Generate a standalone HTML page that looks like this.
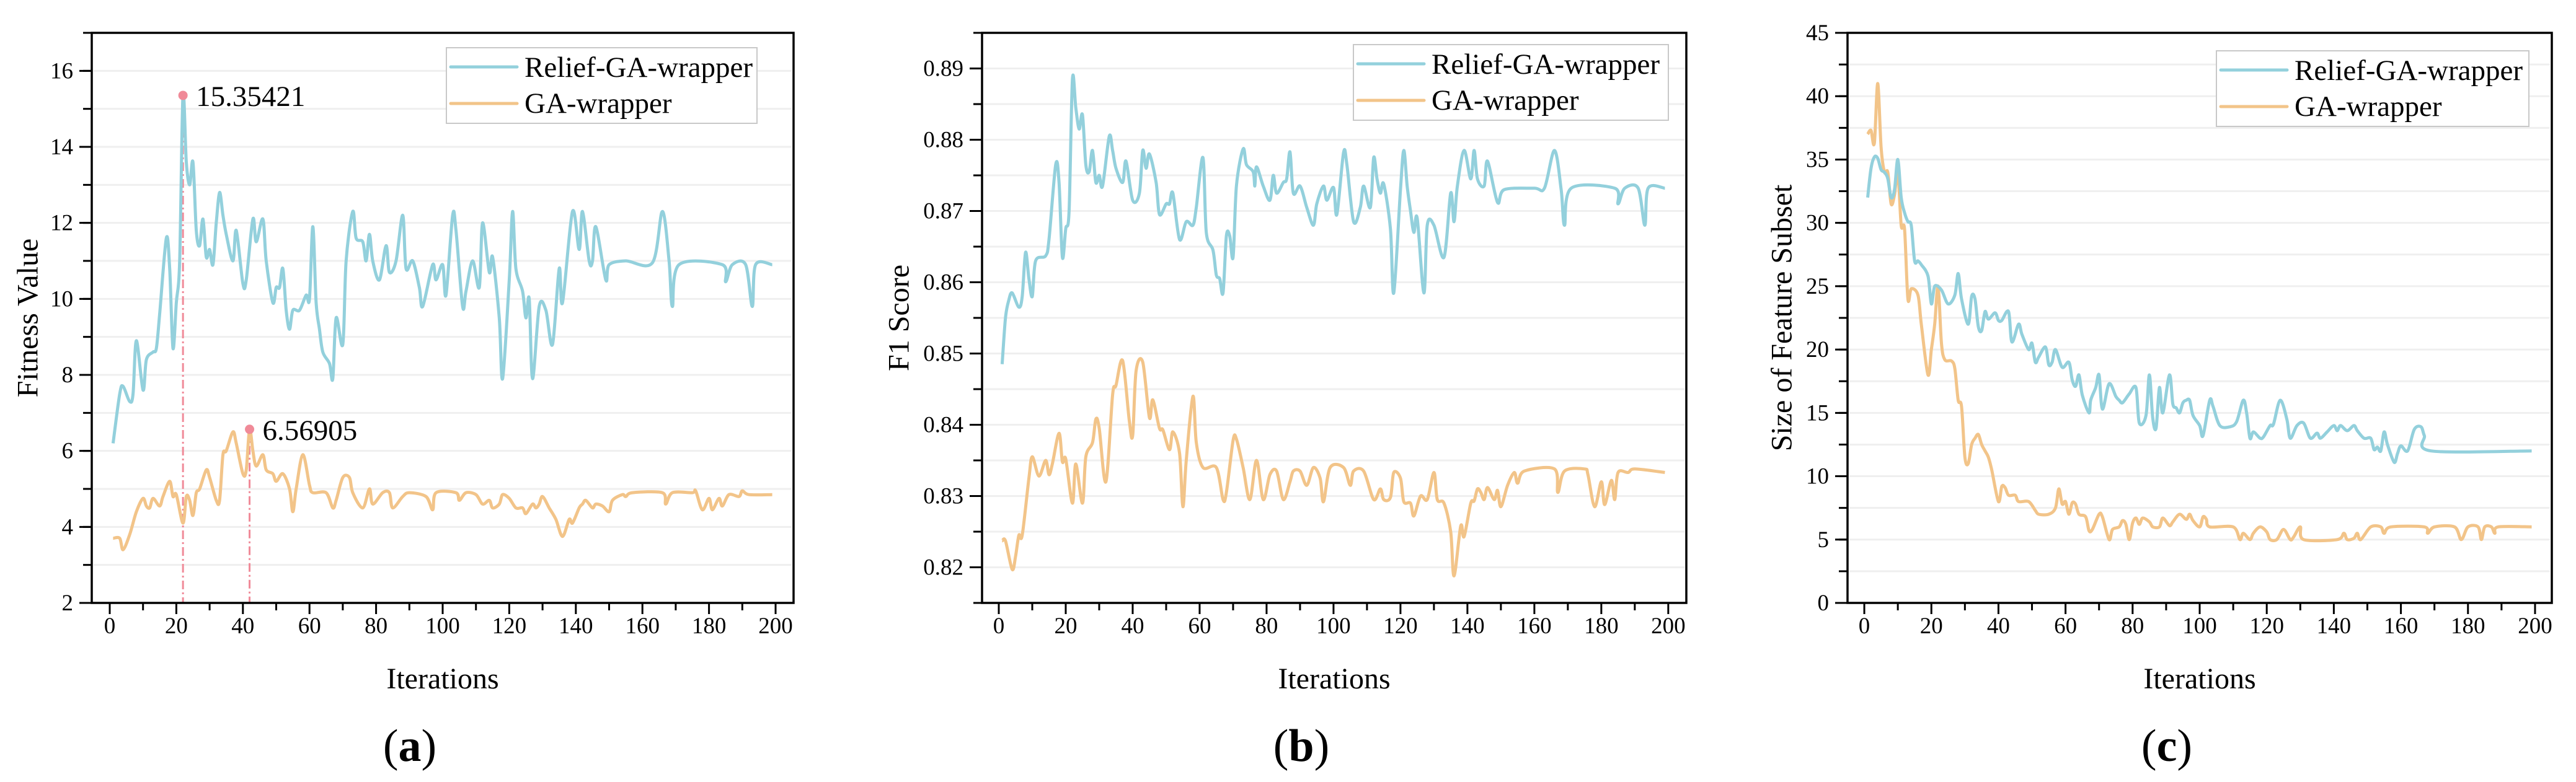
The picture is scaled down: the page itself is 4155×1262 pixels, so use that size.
<!DOCTYPE html>
<html><head><meta charset="utf-8">
<style>
html,body{margin:0;padding:0;background:#fff;}
svg{display:block;}
svg text{font-family:"Liberation Serif","Times New Roman",serif;}
</style></head>
<body>
<svg id="fig" width="4155" height="1262" viewBox="0 0 4155 1262" xmlns="http://www.w3.org/2000/svg" font-family="'Liberation Serif', serif"></svg>
<script>
// ---------- DATA (iteration, value) ----------
const aReliefIter = [1,3,4,6,7,8,10,11,13,14,15,17,18,19,20,21,22,23,24,25,26,27,28,29,30,31,32,33,34,35,37,38,40,41,43,44,46,47,49,50,51,52,53,54,55,57,59,60,61,62,63,64,66,67,68,70,71,73,74,76,77,78,79,81,83,84,86,88,89,91,93,94,97,98,100,101,103,104,106,107,109,111,112,114,115,117,118,120,121,122,124,125,126,127,129,131,133,135,136,139,141,142,144,145,146,149,150,155,163,166,168,169,171,184,185,187,191,193,194,199];
const aReliefVal = [6.2,7.5,7.7,7.3,7.5,8.9,7.6,8.4,8.6,8.7,9.6,11.6,10.8,8.7,9.9,11,15.354,13.6,13.0,13.6,11.8,11.4,12.1,11.1,11.3,10.9,12.0,12.8,12.2,11.7,11.0,11.8,10.4,10.5,12.1,11.5,12.1,11.0,9.9,10.3,10.3,10.8,9.7,9.2,9.7,9.7,10.1,10.0,11.9,9.9,9.2,8.6,8.3,7.9,9.5,8.8,11.0,12.3,11.6,11.5,11.0,11.7,11.0,10.5,11.4,10.7,11.0,12.2,10.8,11.0,10.3,9.8,10.9,10.5,10.9,10.1,12.2,11.8,9.8,10.2,11.0,10.3,12.0,10.7,11.1,9.5,7.9,10.5,12.3,10.8,10.2,9.5,10.0,7.9,9.8,9.7,8.8,10.8,9.9,12.3,11.3,12.3,11.0,11.0,11.9,10.5,10.9,11.0,10.95,12.3,11.0,9.8,10.9,10.9,10.45,10.9,10.9,9.8,10.9,10.9];
const aGaIter = [1,3,4,6,8,10,11,12,13,15,16,18,19,20,22,23,24,25,26,27,29,30,32,33,34,35,37,38,40,41,42,43,44,46,47,49,50,52,54,55,56,58,60,61,65,67,68,70,72,73,76,78,79,82,84,85,88,90,95,97,98,104,105,107,110,112,114,115,117,118,120,122,124,125,127,128,129,130,132,134,136,138,139,141,142,143,145,146,148,150,151,154,155,157,166,167,169,175,176,178,180,181,183,184,186,189,190,192,199];
const aGaVal = [3.7,3.7,3.4,3.8,4.4,4.75,4.55,4.5,4.75,4.55,4.8,5.2,4.8,4.85,4.1,4.8,4.7,4.3,4.9,5.0,5.5,5.3,4.7,4.7,5.9,6.0,6.5,6.2,5.4,5.5,6.569,6.0,5.6,5.9,5.5,5.4,5.2,5.4,5.0,4.4,5.0,5.9,5.1,4.9,4.9,4.5,4.7,5.3,5.3,4.9,4.5,5.0,4.6,4.9,4.9,4.5,4.8,4.9,4.8,4.45,4.9,4.9,4.7,4.9,4.85,4.6,4.7,4.5,4.6,4.85,4.75,4.5,4.5,4.35,4.6,4.5,4.6,4.8,4.5,4.2,3.75,4.2,4.1,4.5,4.6,4.7,4.5,4.6,4.55,4.4,4.7,4.85,4.8,4.9,4.9,4.6,4.9,4.9,4.95,4.45,4.75,4.45,4.75,4.55,4.85,4.8,4.95,4.85,4.85];
const aPeakIter = [22, 42];
const aPeakVal = [15.35421, 6.56905];
const aPeakLabel = ["15.35421", "6.56905"];

const bReliefIter = [1,2,3,4,6,7,8,9,10,11,14,15,17,18,19,20,21,22,23,24,25,26,27,28,29,30,31,33,34,35,37,38,40,42,43,44,45,47,48,50,51,52,54,56,58,59,61,62,64,65,66,67,68,69,70,71,73,74,76,76.5,77,79,81,82,83,85,86,87,88,90,92,94,95,97,98,100,101,103,104,106,108,109,111,112,113,114,115,117,118,120,121,122,123,124,125,127,128,130,133,135,136,137,139,141,142,143,145,146,149,151,160,163,166,168,169,171,184,185,187,191,193,194,199];
const bReliefVal = [0.8485,0.855,0.8575,0.8585,0.8565,0.858,0.8642,0.8605,0.858,0.863,0.8637,0.866,0.8765,0.874,0.8635,0.8675,0.87,0.8885,0.8845,0.8815,0.8835,0.8765,0.8755,0.8785,0.874,0.875,0.8735,0.8805,0.8785,0.876,0.874,0.877,0.8715,0.8725,0.8785,0.876,0.878,0.874,0.8695,0.871,0.871,0.8725,0.866,0.8685,0.868,0.8705,0.8775,0.867,0.8645,0.861,0.8605,0.8585,0.8665,0.8665,0.8635,0.8735,0.8787,0.8765,0.8755,0.8735,0.8762,0.8735,0.8715,0.875,0.8725,0.874,0.8745,0.8783,0.8725,0.8735,0.8705,0.868,0.871,0.8735,0.8715,0.8733,0.8695,0.8782,0.8765,0.8685,0.8705,0.8735,0.8705,0.8775,0.8745,0.8725,0.8738,0.8675,0.8585,0.873,0.8785,0.8735,0.87,0.867,0.869,0.8585,0.868,0.868,0.8635,0.8725,0.8685,0.8735,0.8785,0.8745,0.8785,0.8745,0.8735,0.877,0.8712,0.873,0.8732,0.8732,0.8785,0.873,0.868,0.8732,0.8732,0.871,0.8732,0.8732,0.868,0.8732,0.8732];
const bGaIter = [1,2,4,5,6,7,9,10,12,14,15,16,18,19,20,22,23,25,26,28,29,30,32,34,35,37,39,40,41,43,45,46,48,49,51,52,54,55,56,58,59,61,65,67,68,70,71,73,75,77,79,81,83,85,87,88,90,92,94,96,97,99,103,105,106,109,112,114,115,117,118,120,121,123,124,126,128,130,131,133,135,136,138,139,141,142,143,144,145,146,148,149,150,152,154,155,157,166,167,169,175,176,178,180,181,183,184,185,188,190,199];
const bGaVal = [0.8237,0.8237,0.8197,0.8215,0.8245,0.8245,0.8325,0.8355,0.8328,0.835,0.833,0.8345,0.8388,0.8348,0.8352,0.829,0.8345,0.829,0.8355,0.8375,0.8408,0.8395,0.832,0.8442,0.8455,0.849,0.8405,0.8385,0.8475,0.8488,0.841,0.8435,0.8395,0.8393,0.8365,0.839,0.836,0.8285,0.835,0.844,0.8375,0.834,0.834,0.8295,0.8305,0.8378,0.838,0.834,0.8295,0.835,0.8295,0.833,0.8335,0.8295,0.832,0.8335,0.8335,0.8315,0.834,0.8325,0.8292,0.834,0.834,0.8315,0.8335,0.8335,0.8295,0.831,0.8295,0.8298,0.8333,0.8325,0.8292,0.829,0.8272,0.83,0.8295,0.8333,0.8295,0.829,0.825,0.8188,0.8258,0.8243,0.829,0.8293,0.831,0.8305,0.8295,0.8312,0.8295,0.8308,0.8285,0.8315,0.8333,0.8318,0.8335,0.8338,0.8305,0.8335,0.8338,0.833,0.8285,0.832,0.8288,0.8322,0.8295,0.8333,0.8333,0.8338,0.8333];

const cReliefIter = [1,2,3,4,5,6,7,8,9,10,11,12,13,14,15,16,17,19,20,21,23,25,27,28,29,31,32,33,34,35,36,37,39,40,41,43,44,46,47,49,50,51,52,54,55,56,57,59,61,62,63,64,65,67,67.5,69,70,71,73,75,76,77,79,81,82,84,85,86,87,88,89,91,92,93,94,95,96,97,98,100,101,103,104,106,109,111,113,114,115,116,118,119,121,122,124,126,127,129,131,133,135,136,138,140,141,142,144,146,147,149,151,152,153,154,155,156,158,159,160,162,164,166,167,169,199];
const cReliefVal = [32,34.3,35.2,35.1,34.2,34.0,33.5,32,32.6,35,32,30.8,30.1,29.8,27,27,26.7,25.8,23.6,25,24.7,23.6,24.3,26,24,22,24.2,24,21.8,21.5,23,22.4,22.9,22.3,22.3,23,20.6,22,21.2,20,20.5,19,19.4,20.2,18.8,19,20,18.6,19,17.6,17.1,18,16.4,15,16,17,18,15.3,17.3,16.3,16,15.8,16.5,17,14.2,14.8,18,14.6,13.8,17,15,18,15.7,15.4,15,15.8,16,16,14.8,14,13.2,16,15.5,14,13.9,14.3,16,15,13,13.5,13,13.1,14,14.1,16,14.5,13,14,14.2,13,13.4,13,13.5,14,13.6,14,13.6,14,13.6,13,13,12.1,12.3,12,13.5,12.5,11.1,11.8,12.4,12,13.7,13.9,13.2,12,12];
const cGaIter = [1,2,3,4,5,6,7,8,9,10,11,12,13,14,16,17,19,20,21,22,23,24,26,27,28,29,30,31,32,33,34,35,36,37,38,40,41,42,43,45,46,49,51,52,55,57,58,59,60,61,62,63,64,66,67,68,70,71,73,74,76,77,78,79,80,81,82,83,85,86,88,89,91,92,94,96,97,98,100,101,102,103,110,112,113,115,116,118,120,121,123,125,127,128,130,131,141,143,144,146,147,148,151,154,155,157,167,168,170,176,178,180,183,184,185,187,188,189,199];
const cGaVal = [37,37.3,36.3,41,36,34,34,31.5,32.2,34,29.8,29.5,24,24.8,24.3,22,18,20,22,25,20.5,19.2,19.1,18.5,16,15.5,11.5,11,12.5,13,13.3,12.5,12,11.5,10.5,8,9.2,9.1,8.5,8.5,8,8,7.3,7,7,7.5,9,7.8,8,7,7.9,7.8,7,6.8,5.7,5.8,7,6.8,5,5.8,6,6.5,6.2,5,6.3,6.7,6.2,6.7,6.4,6,6,6.7,6.1,6.4,7,6.6,7,6.5,6,6.8,6.6,6,6,5,5.5,5,5.5,6,5.6,5,5,5.8,5,5.2,6,5,5,5.5,5,5.1,5.5,5,6,6,5.5,6,6,5.5,6,6,5,6,6,5,6,6,5.5,6,6];

const aYTicks = [2,4,6,8,10,12,14,16];
const bYTicks = [0.82,0.83,0.84,0.85,0.86,0.87,0.88,0.89];
const bYLabels = ["0.82","0.83","0.84","0.85","0.86","0.87","0.88","0.89"];
const cYTicks = [0,5,10,15,20,25,30,35,40,45];
const xTicks = [0,20,40,60,80,100,120,140,160,180,200];

// ---------- LAYOUT ----------
const NS = "http://www.w3.org/2000/svg";
const svg = document.getElementById("fig");
const CYAN = "#93d0dc", ORANGE = "#f2c489", PINK = "#f08a98";
const FONT = "'Liberation Serif', 'Times New Roman', serif";
function mk(tag, attrs, parent){ const e = document.createElementNS(NS, tag); for (const k in attrs) e.setAttribute(k, attrs[k]); if (tag === "text") e.setAttribute("font-family", FONT); (parent||svg).appendChild(e); return e; }

const panels = [
 {id:"a", L:148, R:1280, T:53, B:973, x0:-5.4, x1:205.4, y0:2, y1:17, minor:1, ticks:aYTicks, labels:aYTicks.map(String), ytitle:"Fitness Value", ytx:45,
  rel:[aReliefIter,aReliefVal], ga:[aGaIter,aGaVal], leg:{x:720,y:77,w:501}, cap:"a"},
 {id:"b", L:1584, R:2720, T:53, B:973, x0:-5.0, x1:205.4, y0:0.815, y1:0.895, minor:0.005, ticks:bYTicks, labels:bYLabels, ytitle:"F1 Score", ytx:1450,
  rel:[bReliefIter,bReliefVal], ga:[bGaIter,bGaVal], leg:{x:2183,y:72,w:508}, cap:"b"},
 {id:"c", L:2980, R:4116, T:53, B:973, x0:-5.0, x1:205.0, y0:0, y1:45, minor:2.5, ticks:cYTicks, labels:cYTicks.map(String), ytitle:"Size of Feature Subset", ytx:2874,
  rel:[cReliefIter,cReliefVal], ga:[cGaIter,cGaVal], leg:{x:3575,y:82,w:504}, cap:"c"}
];

function smoothPath(pts){
  let d = "M" + pts[0][0].toFixed(1) + "," + pts[0][1].toFixed(1);
  for (let i = 0; i < pts.length - 1; i++){
    const p0 = pts[Math.max(0,i-1)], p1 = pts[i], p2 = pts[i+1], p3 = pts[Math.min(pts.length-1,i+2)];
    const t = 0.16;
    const c1x = p1[0] + (p2[0]-p0[0])*t, c1y = p1[1] + (p2[1]-p0[1])*t;
    const c2x = p2[0] - (p3[0]-p1[0])*t, c2y = p2[1] - (p3[1]-p1[1])*t;
    d += " C" + c1x.toFixed(1)+","+c1y.toFixed(1)+" "+c2x.toFixed(1)+","+c2y.toFixed(1)+" "+p2[0].toFixed(1)+","+p2[1].toFixed(1);
  }
  return d;
}

panels.forEach(p => {
  const g = mk("g", {});
  
  
  const sx = v => p.L + (v - p.x0) / (p.x1 - p.x0) * (p.R - p.L);
  const sy = v => p.B - (v - p.y0) / (p.y1 - p.y0) * (p.B - p.T);

  const nG = Math.round((p.y1 - p.y0) / p.minor);
  for (let k = 1; k < nG; k++){
    const y = sy(p.y0 + k * p.minor);
    const gl = mk("line", {x1:p.L+3, x2:p.R-3, y1:y, y2:y, stroke:"#efefef", "stroke-width":3}, g);
    
    
  }
  for (let k = 0; k <= nG; k++){
    const y = sy(p.y0 + k * p.minor);
    mk("line", {x1:p.L-14, x2:p.L, y1:y, y2:y, stroke:"#000", "stroke-width":3}, g);
  }
  p.ticks.forEach((v, i) => {
    const y = sy(v);
    mk("line", {x1:p.L-20, x2:p.L, y1:y, y2:y, stroke:"#000", "stroke-width":3}, g);
    const t = mk("text", {x:p.L-30, y:y+12, "text-anchor":"end", "font-size":37, fill:"#000"}, g);
    
    
    t.textContent = p.labels[i];
  });
  for (let v = 0; v <= 200; v += 10){
    const x = sx(v);
    const major = v % 20 === 0;
    mk("line", {x1:x, x2:x, y1:p.B, y2:p.B + (major?18:12), stroke:"#000", "stroke-width":3}, g);
  }
  xTicks.forEach(v => {
    const t = mk("text", {x:sx(v), y:1022, "text-anchor":"middle", "font-size":37, fill:"#000"}, g);
    
    
    t.textContent = String(v);
  });

  const clipId = "clip" + p.id;
  const cp = mk("clipPath", {id:clipId}, g);
  mk("rect", {x:p.L, y:p.T, width:p.R-p.L, height:p.B-p.T}, cp);

  if (p.id === "a"){
    aPeakIter.forEach((it, i) => {
      const dl = mk("line", {x1:sx(it), x2:sx(it), y1:sy(aPeakVal[i]), y2:p.B, stroke:PINK, "stroke-width":3, "stroke-dasharray":"14 5 3 5"}, g);
      
      
    });
  }
  const s1 = mk("path", {d:smoothPath(p.ga[0].map((it,i)=>[sx(it), sy(p.ga[1][i])])), fill:"none", stroke:ORANGE, "stroke-width":5, "stroke-linejoin":"round", "clip-path":"url(#"+clipId+")"}, g);
  
  
  const s2 = mk("path", {d:smoothPath(p.rel[0].map((it,i)=>[sx(it), sy(p.rel[1][i])])), fill:"none", stroke:CYAN, "stroke-width":5, "stroke-linejoin":"round", "clip-path":"url(#"+clipId+")"}, g);
  
  

  if (p.id === "a"){
    aPeakIter.forEach((it, i) => {
      const m = mk("circle", {cx:sx(it), cy:sy(aPeakVal[i]), r:7.5, fill:PINK}, g);
      
      
      const t = mk("text", {x:sx(it)+21, y:sy(aPeakVal[i])+17, "font-size":47, fill:"#000"}, g);
      
      
      t.textContent = aPeakLabel[i];
    });
  }

  const fr = mk("rect", {x:p.L, y:p.T, width:p.R-p.L, height:p.B-p.T, fill:"none", stroke:"#000", "stroke-width":3.5}, g);
  
  

  const lg = mk("g", {}, g);
  
  
  mk("rect", {x:p.leg.x, y:p.leg.y, width:p.leg.w, height:122, fill:"#fff", stroke:"#c8c8c8", "stroke-width":2}, lg);
  [["Relief-GA-wrapper", CYAN, 31, 47], ["GA-wrapper", ORANGE, 90, 105]].forEach(r => {
    const e = mk("g", {}, lg);
    
    
    mk("line", {x1:p.leg.x+7, x2:p.leg.x+114, y1:p.leg.y+r[2], y2:p.leg.y+r[2], stroke:r[1], "stroke-width":5, "stroke-linecap":"round"}, e);
    const t = mk("text", {x:p.leg.x+126, y:p.leg.y+r[3], "font-size":47, fill:"#000"}, e);
    t.textContent = r[0];
  });

  const xc = (p.L + p.R) / 2;
  const xt = mk("text", {x:xc, y:1111, "text-anchor":"middle", "font-size":48, fill:"#000"}, g);
  
  
  xt.textContent = "Iterations";
  const yt = mk("text", {x:0, y:0, "text-anchor":"middle", "dominant-baseline":"central", "font-size":48, fill:"#000", transform:"translate("+p.ytx+",513) rotate(-90)"}, g);
  
  
  yt.textContent = p.ytitle;
  const cap = mk("text", {x:xc-53, y:1228, "text-anchor":"middle", "font-size":74, fill:"#000"}, g);
  
  
  cap.appendChild(document.createTextNode("("));
  const bt = mk("tspan", {"font-weight":"bold"}, cap);
  bt.textContent = p.cap;
  cap.appendChild(document.createTextNode(")"));
});
</script>
</body></html>
